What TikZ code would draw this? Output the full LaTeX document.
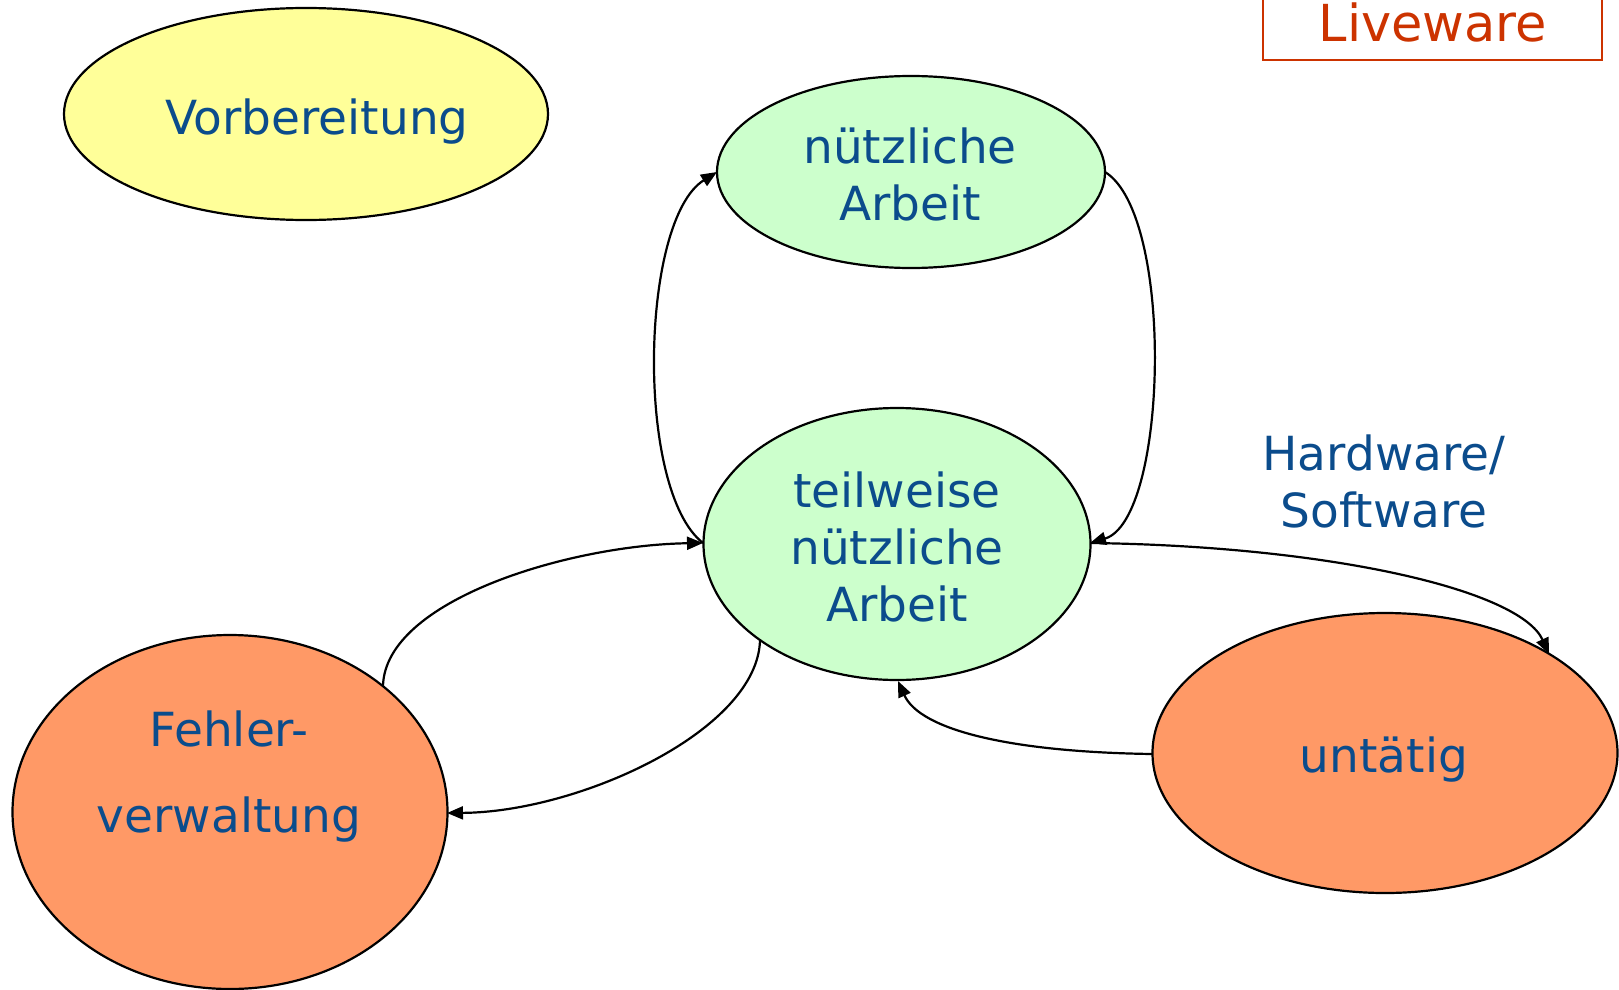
\documentclass[tikz,border=0pt]{standalone}
\usepackage{fontspec}
\setmainfont{DejaVu Sans}
\usetikzlibrary{shapes.geometric,arrows.meta}
\definecolor{txtblue}{HTML}{0B4C8C}
\definecolor{livered}{HTML}{CC3300}
\definecolor{yellowfill}{HTML}{FFFF99}
\definecolor{greenfill}{HTML}{CCFFCC}
\definecolor{orangefill}{HTML}{FF9966}
\tikzset{
  state/.style={ellipse, draw=black, line width=2.2pt, inner sep=0pt},
  lbl/.style={text=txtblue, font=\fontsize{47}{57}\selectfont, align=center},
  flow/.style={line width=2.2pt, -{Triangle[length=16pt,width=13pt]}},
}
\begin{document}
\begin{tikzpicture}[x=1pt,y=-1pt]
\useasboundingbox (0,0) rectangle (1619,990);
% states
\node[state, fill=yellowfill, minimum width=484pt, minimum height=212pt] (vor) at (306,114) {};
\node[state, fill=greenfill, minimum width=388pt, minimum height=192pt] (nuetz) at (911,172) {};
\node[state, fill=greenfill, minimum width=387pt, minimum height=272pt] (teil) at (897,544) {};
\node[state, fill=orangefill, minimum width=435pt, minimum height=354pt] (fehler) at (230,812) {};
\node[state, fill=orangefill, minimum width=465pt, minimum height=280pt] (idle) at (1385,753) {};
% labels
\node[lbl] (tvor) at (317,122) {Vorbereitung};
\node[lbl] (tnuetz) at (910,174) {nützliche\\Arbeit};
\node[lbl] (tteil) at (897,547) {teilweise\\nützliche\\Arbeit};
\node[lbl, font=\fontsize{47}{86}\selectfont] (tfehler) at (229,777) {Fehler-\\verwaltung};
\node[lbl] (tidle) at (1384,760) {untätig};
\node[lbl] (thw) at (1384,481) {Hardware/\\Software};
% Liveware box
\node[draw=livered, line width=2pt, minimum width=339pt, minimum height=110pt,
      anchor=south] (live) at (1432.5,61) {};
\node[text=livered, font=\fontsize{51}{60}\selectfont] (tlive) at (1433,22) {Liveware};
% transitions
\coordinate (tw) at (703,543);
\coordinate (te) at (1090,543);
\coordinate (ne) at (1105,172);
\coordinate (nw) at (717,172);
\coordinate (tsw) at (760,640);
\coordinate (ts) at (898,681);
\coordinate (fne) at (383,686);
\coordinate (fe) at (447,813);
\coordinate (ine) at (1549,654);
\coordinate (iw) at (1152,754);
\draw[flow] (tw) .. controls (635,490) and (640,220) .. (nw);
\draw[flow] (ne) .. controls (1175,215) and (1168,520) .. (te);
\draw[flow] (te) .. controls (1330,546) and (1520,590) .. (ine);
\draw[flow] (iw) .. controls (1010,752) and (920,730) .. (ts);
\draw[flow] (fne) .. controls (385,600) and (570,545) .. (tw);
\draw[flow] (tsw) .. controls (758,730) and (580,812) .. (fe);
\end{tikzpicture}
\end{document}
